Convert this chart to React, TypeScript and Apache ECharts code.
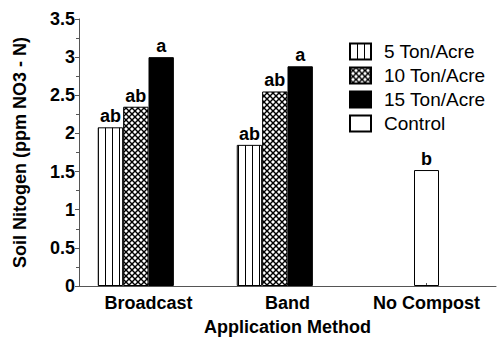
import React, { useEffect, useRef } from "react";
import * as echarts from "echarts";

const categories = ["Broadcast", "Band", "No Compost"];
const seriesNames = ["5 Ton/Acre", "10 Ton/Acre", "15 Ton/Acre", "Control"];
const ton5 = [2.08, 1.85, null];
const ton10 = [2.35, 2.55, null];
const ton15 = [3.0, 2.88, null];
const control = [null, null, 1.52];
const letters5 = ["ab", "ab", ""];
const letters10 = ["ab", "ab", ""];
const letters15 = ["a", "a", ""];
const lettersControl = ["", "", "b"];
const yTicks = [0, 0.5, 1, 1.5, 2, 2.5, 3, 3.5];

const FONT = "'Liberation Sans', Arial, sans-serif";

function verticalPattern() {
  const c = document.createElement("canvas");
  c.width = 7;
  c.height = 7;
  const g = c.getContext("2d")!;
  g.fillStyle = "#fff";
  g.fillRect(0, 0, 7, 7);
  g.fillStyle = "#000";
  g.fillRect(0, 0, 1, 7);
  return c;
}

function crossPattern() {
  const s = 6;
  const c = document.createElement("canvas");
  c.width = s;
  c.height = s;
  const g = c.getContext("2d")!;
  g.fillStyle = "#fff";
  g.fillRect(0, 0, s, s);
  g.strokeStyle = "#000";
  g.lineWidth = 1.4;
  const seg = (x1: number, y1: number, x2: number, y2: number) => {
    g.beginPath();
    g.moveTo(x1, y1);
    g.lineTo(x2, y2);
    g.stroke();
  };
  for (const off of [-s, 0, s]) {
    seg(-1 + off, -1, s + 1 + off, s + 1);
    seg(s + 1 + off, -1, -1 + off, s + 1);
  }
  return c;
}

export default function App() {
  const ref = useRef<HTMLDivElement>(null);
  useEffect(() => {
    if (!ref.current) return;
    const chart = echarts.init(ref.current, undefined, { renderer: "svg" });
    const vert = { image: verticalPattern(), repeat: "repeat" };
    const cross = { image: crossPattern(), repeat: "repeat" };
    const labelFor = (arr: string[]) => ({
      show: true,
      position: "top",
      distance: 2,
      color: "#000",
      fontFamily: FONT,
      fontWeight: "bold",
      fontSize: 18,
      formatter: (p: any) => arr[p.dataIndex] || "",
    });
    const border = { borderColor: "#000", borderWidth: 1 };
    chart.setOption({
      animation: false,
      backgroundColor: "#fff",
      grid: { left: 79, right: 4, top: 19, bottom: 55 },
      legend: {
        data: seriesNames,
        orient: "vertical",
        left: 349,
        top: 42,
        padding: 0,
        itemWidth: 21,
        itemHeight: 16,
        itemGap: 5,
        icon: "rect",
        textStyle: {
          fontFamily: FONT,
          fontSize: 19,
          color: "#000",
          lineHeight: 18,
          padding: [0, 0, 0, 8],
        },
      },
      xAxis: [
        {
          type: "category",
          data: categories,
          axisLine: { lineStyle: { color: "#555", width: 1 } },
          axisTick: { show: true, inside: true, length: 3, alignWithLabel: true, lineStyle: { color: "#555" } },
          axisLabel: {
            color: "#000",
            fontFamily: FONT,
            fontWeight: "bold",
            fontSize: 18,
            margin: 8,
            interval: 0,
            hideOverlap: false,
          },
          name: "Application Method",
          nameLocation: "middle",
          nameGap: 32,
          nameTextStyle: { color: "#000", fontFamily: FONT, fontWeight: "bold", fontSize: 18 },
        },
        {
          type: "category",
          data: categories,
          show: false,
        },
      ],
      yAxis: {
        type: "value",
        min: 0,
        max: 3.5,
        interval: 0.5,
        splitLine: { show: false },
        axisLine: { show: true, lineStyle: { color: "#555", width: 1 } },
        axisTick: { show: true, length: 4, lineStyle: { color: "#555" } },
        minorTick: { show: true, splitNumber: 2, length: 3, lineStyle: { color: "#555" } },
        axisLabel: {
          color: "#000",
          fontFamily: FONT,
          fontWeight: "bold",
          fontSize: 18,
          margin: 4,
          formatter: (v: number) => (yTicks.includes(v) ? String(v) : ""),
        },
        name: "Soil Nitogen (ppm NO3 - N)",
        nameLocation: "middle",
        nameGap: 50,
        nameTextStyle: { color: "#000", fontFamily: FONT, fontWeight: "bold", fontSize: 18 },
      },
      series: [
        {
          name: seriesNames[0],
          type: "bar",
          xAxisIndex: 0,
          data: ton5,
          barGap: "0%",
          barCategoryGap: "27%",
          itemStyle: { color: vert, ...border },
          label: labelFor(letters5),
        },
        {
          name: seriesNames[1],
          type: "bar",
          xAxisIndex: 0,
          data: ton10,
          itemStyle: { color: cross, ...border },
          label: labelFor(letters10),
        },
        {
          name: seriesNames[2],
          type: "bar",
          xAxisIndex: 0,
          data: ton15,
          itemStyle: { color: "#000", ...border },
          label: labelFor(letters15),
        },
        {
          name: "pad",
          type: "bar",
          xAxisIndex: 0,
          data: [null, null, null],
          itemStyle: { color: "transparent" },
        },
        {
          name: seriesNames[3],
          type: "bar",
          xAxisIndex: 1,
          data: control,
          barWidth: 25,
          itemStyle: { color: "rgba(255,255,255,0)", ...border },
          label: labelFor(lettersControl),
        },
      ],
    });
    return () => chart.dispose();
  }, []);
  return <div ref={ref} style={{ width: 500, height: 341, position: "absolute", left: 0, top: 0 }} />;
}
